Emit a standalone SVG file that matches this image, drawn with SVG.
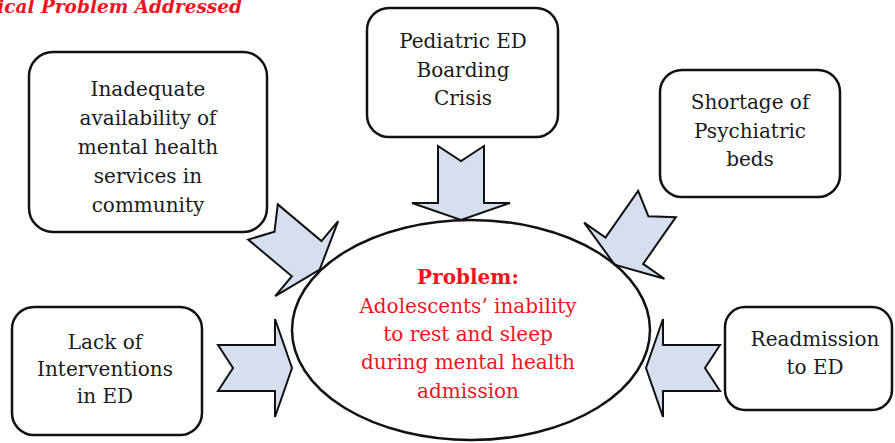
<svg xmlns="http://www.w3.org/2000/svg" width="895" height="443" viewBox="0 0 895 443">
<style>
.box{fill:#fff;stroke:#111;stroke-width:2.5}
.ell{fill:none;stroke:#111;stroke-width:2.5}
.arr{fill:#d6dff0;stroke:#111;stroke-width:2;stroke-linejoin:miter}
.t{font-family:"DejaVu Serif","Liberation Serif",serif;font-size:20px;fill:#1a1a1a;text-anchor:middle}
.r{font-family:"DejaVu Serif","Liberation Serif",serif;font-size:20px;fill:#f0141e;text-anchor:middle}
.title{font-family:"DejaVu Serif","Liberation Serif",serif;font-size:18.5px;font-weight:bold;font-style:italic;fill:#f0141e;text-anchor:end}
</style>
<defs>
<path id="ar" d="M0,-23 L57,-23 L57,-49 L74,0 L57,49 L57,23 L0,23 L15,0 Z"/>
</defs>
<rect width="895" height="443" fill="#fff"/>
<text class="title" x="242" y="13">ical Problem Addressed</text>
<g id="connectors">
<use href="#ar" class="arr" transform="translate(218,368)"/>
<use href="#ar" class="arr" transform="translate(720,368) rotate(180)"/>
<use href="#ar" class="arr" transform="translate(461,146) rotate(90)"/>
<use href="#ar" class="arr" transform="translate(263,222) rotate(40)"/>
<use href="#ar" class="arr" transform="translate(657,204) rotate(125)"/>
</g>
<g id="problem">
<ellipse class="ell" cx="471" cy="330" rx="179" ry="110"/>
<text class="r" x="468" y="284" font-weight="bold">Problem:</text>
<text class="r" x="468" y="313">Adolescents’ inability</text>
<text class="r" x="468" y="341">to rest and sleep</text>
<text class="r" x="468" y="369">during mental health</text>
<text class="r" x="468" y="398">admission</text>
</g>
<g id="inadequate">
<rect class="box" x="29" y="52" width="238" height="180" rx="24"/>
<text class="t" x="148" y="96">Inadequate</text>
<text class="t" x="148" y="125">availability of</text>
<text class="t" x="148" y="154">mental health</text>
<text class="t" x="148" y="183">services in</text>
<text class="t" x="148" y="212">community</text>
</g>
<g id="pediatric">
<rect class="box" x="367" y="8" width="191" height="129" rx="22"/>
<text class="t" x="463" y="48">Pediatric ED</text>
<text class="t" x="463" y="77">Boarding</text>
<text class="t" x="463" y="105">Crisis</text>
</g>
<g id="shortage">
<rect class="box" x="660" y="70" width="180" height="127" rx="22"/>
<text class="t" x="750" y="109">Shortage of</text>
<text class="t" x="750" y="138">Psychiatric</text>
<text class="t" x="750" y="166">beds</text>
</g>
<g id="readmission">
<rect class="box" x="725" y="307" width="167" height="103" rx="20"/>
<text class="t" x="815" y="346">Readmission</text>
<text class="t" x="815" y="374">to ED</text>
</g>
<g id="lack">
<rect class="box" x="12" y="307" width="190" height="128" rx="22"/>
<text class="t" x="105" y="349">Lack of</text>
<text class="t" x="105" y="376">Interventions</text>
<text class="t" x="105" y="403">in ED</text>
</g>
</svg>
